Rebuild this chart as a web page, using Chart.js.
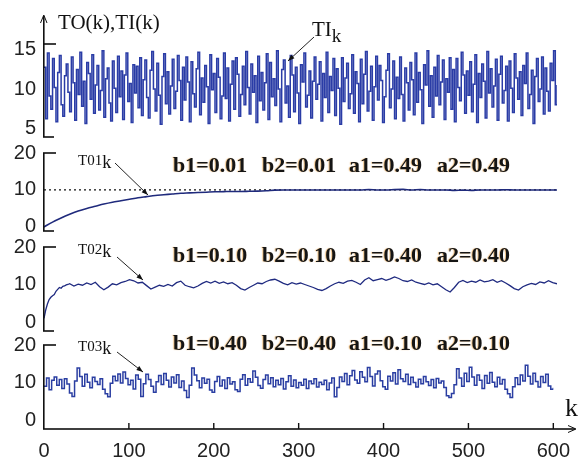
<!DOCTYPE html>
<html>
<head>
<meta charset="utf-8">
<script src="https://cdn.jsdelivr.net/npm/chart.js@4.4.1/dist/chart.umd.min.js"></script>
<style>
html, body { margin: 0; padding: 0; background: #fff; }
#wrap { position: relative; width: 580px; height: 461px; background: #fff; }
#wrap canvas { position: absolute; left: 0; top: 0; }
</style>
</head>
<body>
<div id="wrap">
  <canvas id="p1" width="580" height="461"></canvas>
  <canvas id="p2" width="580" height="461"></canvas>
  <canvas id="p3" width="580" height="461"></canvas>
  <canvas id="p4" width="580" height="461"></canvas>
</div>
<script>
// k index helper (x positions only)
function kRange(a, b, step) {
    const out = [];
    for (let k = a; k <= b; k += step) out.push(k);
    return out;
}

// ---- data ----
const xTicks = [0, 100, 200, 300, 400, 500, 600];

// input TI(k), every 2nd sample
const kTI = kRange(0, 600, 2);
const vTI = [
    12.8, 6.2, 14.6, 9.1, 7.4, 13.9, 10.2, 5.8, 12.1, 14.3, 8.0, 6.5, 11.7, 13.2, 9.6, 7.1, 14.1, 10.8, 6.0, 12.5,
    9.3, 14.7, 7.8, 11.0, 5.6, 13.4, 12.0, 8.7, 14.4, 6.9, 10.5, 13.0, 7.3, 9.8, 14.9, 6.4, 11.3, 12.7, 8.2, 5.9,
    13.6, 10.1, 7.0, 14.2, 9.0, 12.3, 6.1, 11.8, 14.6, 8.4, 10.7, 5.7, 13.1, 9.5, 12.9, 7.6, 14.0, 6.6, 11.2, 13.7,
    8.9, 6.3, 12.4, 14.8, 10.0, 7.2, 13.3, 9.2, 5.5, 11.6, 14.5, 8.1, 12.2, 6.8, 10.4, 13.8, 7.5, 9.7, 14.3, 11.1,
    6.0, 12.8, 8.6, 14.1, 10.9, 5.8, 13.5, 9.4, 7.7, 12.6, 14.7, 6.7, 11.4, 8.3, 13.0, 10.3, 5.6, 14.4, 9.9, 12.0,
    7.0, 13.9, 11.5, 6.2, 9.1, 14.6, 8.8, 12.7, 5.9, 10.6, 13.6, 7.4, 14.0, 11.9, 6.5, 9.3, 12.9, 8.0, 14.8, 10.2,
    6.8, 13.2, 9.6, 11.7, 5.7, 14.2, 8.5, 12.1, 7.3, 10.8, 14.5, 6.1, 13.4, 9.0, 11.3, 7.9, 14.9, 10.0, 5.8, 12.5,
    13.7, 8.2, 10.4, 6.4, 14.3, 11.8, 7.1, 12.8, 9.5, 5.6, 13.1, 10.9, 14.6, 7.7, 9.2, 12.3, 6.3, 11.0, 14.1, 8.7,
    10.6, 13.5, 5.9, 12.0, 8.9, 14.7, 7.0, 11.6, 9.8, 13.9, 6.6, 12.6, 10.1, 5.5, 14.0, 8.4, 11.4, 13.3, 7.5, 9.4,
    14.4, 6.9, 12.2, 10.7, 5.8, 13.8, 8.1, 11.9, 14.8, 7.2, 9.7, 12.9, 6.0, 10.3, 14.2, 8.6, 13.0, 11.1, 5.7, 9.0,
    12.4, 14.5, 7.6, 10.0, 13.6, 6.2, 11.5, 8.8, 14.1, 9.3, 5.9, 12.7, 10.8, 7.3, 13.4, 11.2, 6.7, 14.6, 8.3, 12.1,
    9.9, 5.6, 13.1, 10.5, 14.9, 7.8, 11.7, 6.4, 12.8, 9.1, 14.3, 8.0, 10.9, 13.7, 6.1, 11.3, 9.6, 14.0, 7.4, 12.5,
    5.8, 13.9, 10.2, 8.5, 14.7, 11.8, 6.9, 12.3, 9.2, 13.5, 7.1, 10.6, 14.4, 5.7, 12.0, 8.9, 13.2, 11.0, 6.3, 14.8,
    9.5, 12.6, 7.7, 10.4, 13.8, 6.0, 11.9, 14.2, 8.2, 9.8, 12.9, 5.9, 13.6, 10.1, 7.0, 14.5, 11.4, 8.7, 12.2, 6.6,
    13.0, 10.7, 14.6, 7.5, 9.3, 12.4, 5.6, 11.6, 13.9, 8.4, 10.0, 14.1, 6.8, 12.7, 9.7, 7.2, 13.3, 11.1, 14.9, 8.0,
    10.5
];

// output T01 (b1=b2=0.01, a1=a2=0.49), every 10th sample
const kT01 = kRange(0, 600, 10);
const vT01 = [
    0, 1.3, 2.4, 3.4, 4.3, 5.0, 5.6, 6.2, 6.7, 7.1,
    7.5, 7.9, 8.2, 8.5, 8.7, 8.9, 9.1, 9.2, 9.3, 9.4,
    9.5, 9.55, 9.6, 9.6, 9.65, 9.7, 9.8, 9.95, 10, 10,
    10, 10, 10, 10, 10, 10, 10, 10, 10.1, 10,
    10, 10.1, 10.15, 10, 10.1, 10, 10, 10, 9.9, 9.95,
    9.9, 10, 10, 10, 10.05, 10, 10, 10, 10, 10,
    10
];
const refLevel = [10, 10];
const kRef = [0, 600];

// output T02 (b1=b2=0.10, a1=a2=0.40)
const kT02 = kRange(0, 28, 2).concat(kRange(30, 600, 5));
const vT02 = [
    1.0, 3.2, 4.8, 6.0, 6.6, 7.0, 7.3, 8.2, 8.7, 9.2, 9.0, 9.5, 9.6, 9.9, 10.0,
    10.2, 9.6, 10.1, 9.8, 10.4, 10.0, 10.6, 9.4, 8.6, 9.3,
    10.2, 9.9, 10.5, 10.8, 11.3, 11.0, 10.4, 10.6, 9.7, 8.8,
    9.3, 9.8, 9.5, 10.0, 9.6, 10.5, 10.9, 9.8, 9.4, 9.1,
    9.6, 10.3, 10.8, 10.4, 10.9, 10.3, 10.7, 10.2, 10.5, 9.8,
    8.9, 8.5, 9.2, 9.8, 10.4, 10.2, 10.8, 11.2, 11.4, 10.9,
    10.3, 9.9, 10.5, 10.1, 10.4, 10.0, 9.6, 9.2, 8.7, 8.4,
    8.9, 9.6, 10.2, 10.6, 10.3, 10.9, 11.1, 10.6, 10.0, 11.2,
    11.8, 11.0, 11.3, 11.6, 11.1, 11.5, 12.0, 11.6, 11.0, 10.8,
    11.2, 10.6, 10.3, 10.0, 10.4, 9.9, 10.2, 9.4, 8.6, 8.0,
    9.2, 10.6, 11.1, 10.5, 10.9, 10.6, 11.2, 10.7, 10.9, 11.3,
    10.6, 11.0, 10.4, 9.7, 8.9, 8.5, 9.4, 9.9, 10.3, 10.0,
    10.7, 10.4, 11.0, 10.5, 10.2
];

// output T03 (b1=b2=0.40, a1=a2=0.10), every 3rd sample
const kT03 = kRange(0, 600, 3);
const vT03 = [
    9.0, 11.2, 8.1, 10.6, 11.5, 9.3, 10.8, 8.4, 11.0, 9.6, 7.2,
    6.3, 10.4, 13.9, 11.6, 9.0, 12.2, 10.1, 8.6, 11.4, 10.3,
    9.5, 11.0, 8.2, 7.0, 6.2, 9.8, 11.7, 10.5, 12.3, 9.9,
    12.8, 11.1, 9.4, 10.6, 8.3, 12.0, 10.9, 6.3, 9.7, 12.2,
    10.8, 9.0, 7.4, 10.2, 11.9, 9.5, 12.4, 10.6, 8.8, 11.5,
    9.9, 12.1, 8.7, 10.4, 7.9, 6.0, 9.3, 13.9, 12.0, 10.5,
    8.6, 11.2, 9.8, 10.9, 8.0, 7.4, 10.3, 11.6, 9.1, 10.7,
    8.4, 11.3, 9.6, 10.2, 8.1, 7.6, 10.9, 12.1, 9.3, 11.0,
    10.1, 13.1, 11.4, 9.2, 8.5, 10.8, 12.0, 9.7, 11.3, 8.9,
    10.6, 9.4, 11.1, 8.3, 10.2, 11.8, 9.0, 10.7, 8.6, 10.0,
    9.3, 10.9, 8.4, 10.4, 9.7, 11.0, 8.8, 10.1, 9.5, 10.6,
    8.1, 9.9, 11.2, 6.2, 8.7, 11.5, 10.3, 12.4, 9.4, 11.8,
    13.2, 10.7, 9.8, 12.9, 11.4, 10.2, 14.0, 11.6, 9.1, 12.3,
    13.1, 10.5, 8.9, 8.2, 11.7, 10.4, 12.6, 9.6, 13.4, 11.0,
    10.3, 12.2, 9.5, 11.4, 10.0, 8.8, 10.9, 9.7, 11.6, 10.2,
    9.2, 10.8, 8.6, 11.1, 9.9, 10.4, 8.7, 6.5, 6.0, 7.1,
    9.4, 13.7, 11.2, 9.0, 12.5, 10.3, 14.1, 11.5, 9.3, 12.0,
    10.6, 8.4, 11.9, 9.8, 12.7, 10.1, 8.9, 11.4, 9.6, 10.8,
    8.2, 7.0, 6.0, 8.9, 11.3, 9.5, 12.0, 10.4, 14.6, 11.7,
    9.6, 12.5, 10.3, 8.8, 11.6, 10.0, 12.2, 9.1, 8.2, 8.6
];

const paramRows = [
    ['b1=0.01', 'b2=0.01', 'a1=0.49', 'a2=0.49'],
    ['b1=0.10', 'b2=0.10', 'a1=0.40', 'a2=0.40'],
    ['b1=0.40', 'b2=0.40', 'a1=0.10', 'a2=0.10'],
];
const paramX = [173, 262, 349, 437];

function pts(ks, vs) {
    return ks.map((k, i) => ({ x: k, y: vs[i] }));
}

const W = 580, H = 461;
const AXIS_X_H = 32;
const SERIF = '"Liberation Serif", "Times New Roman", serif';
const SANS = '"Liberation Sans", Arial, sans-serif';

function arrow(ctx, x1, y1, x2, y2, size) {
    ctx.beginPath();
    ctx.moveTo(x1, y1);
    ctx.lineTo(x2, y2);
    ctx.stroke();
    const ang = Math.atan2(y2 - y1, x2 - x1);
    ctx.beginPath();
    ctx.moveTo(x2, y2);
    ctx.lineTo(x2 - size * Math.cos(ang - 0.35), y2 - size * Math.sin(ang - 0.35));
    ctx.lineTo(x2 - size * Math.cos(ang + 0.35), y2 - size * Math.sin(ang + 0.35));
    ctx.closePath();
    ctx.fill();
}

function subLabel(ctx, main, sub, x, y, f1, f2, dy) {
    ctx.font = f1;
    ctx.fillText(main, x, y);
    const w = ctx.measureText(main).width;
    ctx.font = f2;
    ctx.fillText(sub, x + w, y + dy);
}

function params(ctx, row, y) {
    ctx.save();
    ctx.font = 'bold 22px ' + SERIF;
    ctx.fillStyle = '#151515';
    ctx.shadowColor = 'rgba(225,140,30,0.55)';
    ctx.shadowOffsetX = -1;
    ctx.shadowOffsetY = 0;
    ctx.shadowBlur = 1;
    row.forEach((t, i) => ctx.fillText(t, paramX[i], y));
    ctx.restore();
}

// axes in the "bracket" style plus the annotations of each panel
function framePlugin(cfg) {
    return {
        id: 'frame' + cfg.n,
        afterDraw(chart) {
            const ctx = chart.ctx;
            const ys = chart.scales.y;
            const top = ys.top, bottom = ys.bottom;
            const L = 43;
            ctx.save();
            ctx.setLineDash([]);
            ctx.globalAlpha = 1;
            ctx.fillStyle = '#111';

            // vertical axis and its end brackets
            const vTop = cfg.arrowTop ? 16 : top;
            ctx.fillRect(L, vTop, 1.6, bottom - vTop);
            ctx.fillRect(L, top - 0.8, 13, 1.6);
            if (!cfg.xAxis) ctx.fillRect(L, bottom - 0.8, 11, 1.6);

            if (cfg.arrowTop) {
                ctx.strokeStyle = '#111';
                ctx.lineWidth = 1;
                ctx.beginPath();
                ctx.moveTo(L - 2.5, 23);
                ctx.lineTo(L + 0.8, 15);
                ctx.lineTo(L + 4, 23);
                ctx.stroke();
            }

            if (cfg.xAxis) {
                const xs = chart.scales.x;
                ctx.fillRect(L, bottom - 0.8, 575 - L, 1.6);
                xTicks.forEach(v => {
                    if (v === 0) return;
                    const px = xs.getPixelForValue(v);
                    ctx.fillRect(px - 0.7, bottom - 6, 1.4, 6);
                });
                ctx.strokeStyle = '#111';
                ctx.lineWidth = 1;
                ctx.beginPath();
                ctx.moveTo(568, bottom - 3.5);
                ctx.lineTo(576, bottom);
                ctx.lineTo(568, bottom + 3.5);
                ctx.stroke();
                ctx.font = '26px ' + SERIF;
                ctx.fillText('k', 565, 416);
            }

            ctx.lineWidth = 1;
            ctx.fillStyle = '#111';
            ctx.strokeStyle = '#222';
            cfg.draw(ctx);
            ctx.restore();
        }
    };
}

function makePanel(id, cfg) {
    const showX = !!cfg.xAxis;
    return new Chart(document.getElementById(id), {
        type: 'line',
        data: { datasets: cfg.datasets },
        options: {
            responsive: false,
            animation: false,
            events: [],
            layout: {
                padding: {
                    left: 0,
                    right: 23,
                    top: cfg.top,
                    bottom: H - cfg.bottom - (showX ? AXIS_X_H : 0),
                },
            },
            plugins: { legend: { display: false }, tooltip: { enabled: false } },
            elements: { point: { radius: 0 } },
            scales: {
                x: {
                    type: 'linear',
                    min: 0,
                    max: 600,
                    display: showX,
                    grid: { display: false, drawTicks: false },
                    border: { display: false },
                    afterFit: s => { s.height = showX ? AXIS_X_H : 0; },
                    afterBuildTicks: s => { s.ticks = xTicks.map(v => ({ value: v })); },
                    ticks: {
                        padding: 10,
                        color: '#222',
                        maxRotation: 0,
                        font: { family: SANS, size: 20 },
                    },
                },
                y: {
                    min: cfg.min,
                    max: cfg.max,
                    grid: { display: false, drawTicks: false },
                    border: { display: false },
                    afterFit: s => { s.width = 44; },
                    afterBuildTicks: s => { s.ticks = cfg.yTicks.map(v => ({ value: v })); },
                    ticks: {
                        padding: 8,
                        color: '#222',
                        font: { family: SANS, size: 20 },
                    },
                },
            },
        },
        plugins: [framePlugin(cfg)],
    });
}

makePanel('p1', {
    n: 1, top: 44, bottom: 137, min: 3.86, max: 15.76, yTicks: [5, 10, 15], arrowTop: true,
    datasets: [{
        data: pts(kTI, vTI), borderColor: '#2a3ca6', borderWidth: 1.5, stepped: true,
    }],
    draw(ctx) {
        ctx.font = '21px ' + SERIF;
        ctx.fillText('TO(k),TI(k)', 58, 29);
        subLabel(ctx, 'TI', 'k', 312, 36, '21px ' + SERIF, '19px ' + SERIF, 6);
        arrow(ctx, 314, 37, 288, 61, 7);
    },
});

makePanel('p2', {
    n: 2, top: 153, bottom: 231, min: -1.1, max: 20, yTicks: [0, 10, 20],
    datasets: [
        {
            data: pts(kT01, vT01), borderColor: '#1f2a7c', borderWidth: 1.6,
            cubicInterpolationMode: 'monotone',
        },
        {
            data: pts(kRef, refLevel), borderColor: '#111', borderWidth: 1.2,
            borderDash: [2, 3], tension: 0,
        },
    ],
    draw(ctx) {
        subLabel(ctx, 'T01', 'k', 78, 165, '15px ' + SERIF, '18px ' + SERIF, 3);
        arrow(ctx, 115, 163, 148, 195, 7);
        params(ctx, paramRows[0], 172);
    },
});

makePanel('p3', {
    n: 3, top: 247, bottom: 331, min: -2.4, max: 20, yTicks: [0, 10, 20],
    datasets: [{
        data: pts(kT02, vT02), borderColor: '#1f2a80', borderWidth: 1.3, tension: 0,
    }],
    draw(ctx) {
        subLabel(ctx, 'T02', 'k', 78, 254, '15px ' + SERIF, '18px ' + SERIF, 3);
        arrow(ctx, 117, 257, 143, 280, 7);
        params(ctx, paramRows[1], 262);
    },
});

makePanel('p4', {
    n: 4, top: 345, bottom: 429, min: -2.4, max: 20, yTicks: [0, 10, 20], xAxis: true,
    datasets: [{
        data: pts(kT03, vT03), borderColor: '#2a3ea2', borderWidth: 1.5, stepped: true,
    }],
    draw(ctx) {
        subLabel(ctx, 'T03', 'k', 78, 351, '15px ' + SERIF, '18px ' + SERIF, 3);
        arrow(ctx, 117, 352, 143, 372, 7);
        params(ctx, paramRows[2], 350);
    },
});
</script>
</body>
</html>
